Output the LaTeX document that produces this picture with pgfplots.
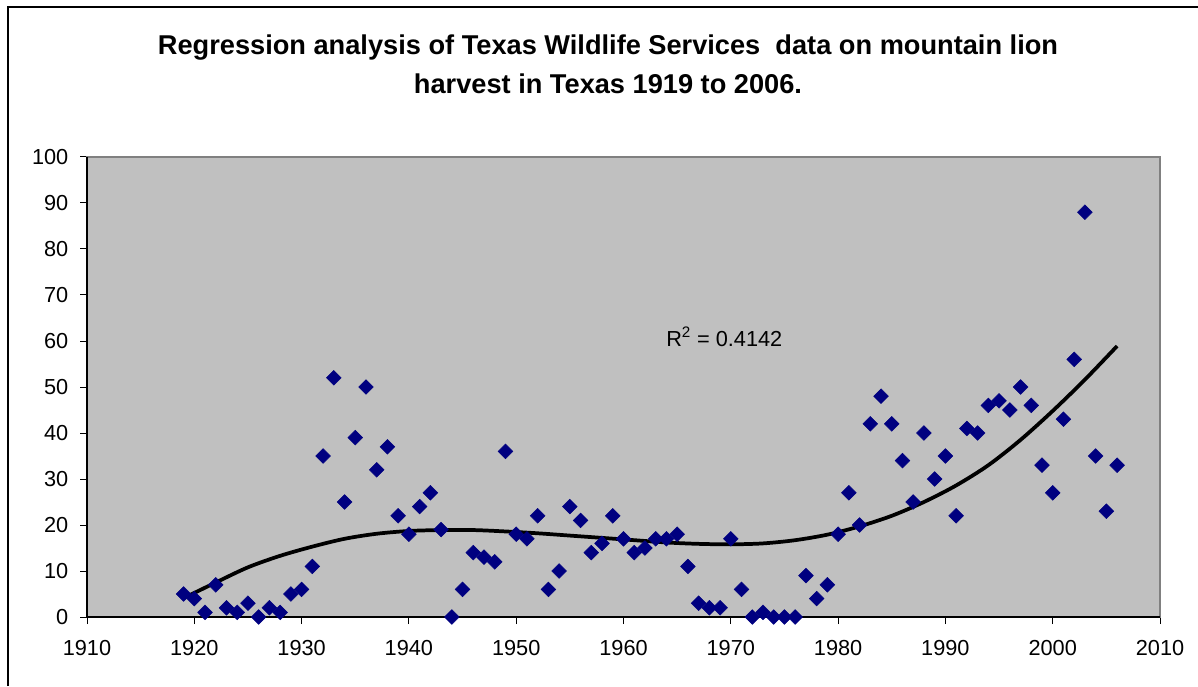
\documentclass[border=0pt]{standalone}
\usepackage{pgfplots}
\pgfplotsset{compat=1.18}
\usepackage{pgfplotstable}
\usepackage{fontspec}
\setmainfont{Liberation Sans}
\definecolor{navy}{HTML}{000080}
\definecolor{plotgray}{HTML}{C0C0C0}
\definecolor{bordergray}{HTML}{808080}

\pgfplotstableread{
year value
1919 5
1920 4
1921 1
1922 7
1923 2
1924 1
1925 3
1926 0
1927 2
1928 1
1929 5
1930 6
1931 11
1932 35
1933 52
1934 25
1935 39
1936 50
1937 32
1938 37
1939 22
1940 18
1941 24
1942 27
1943 19
1944 0
1945 6
1946 14
1947 13
1948 12
1949 36
1950 18
1951 17
1952 22
1953 6
1954 10
1955 24
1956 21
1957 14
1958 16
1959 22
1960 17
1961 14
1962 15
1963 17
1964 17
1965 18
1966 11
1967 3
1968 2
1969 2
1970 17
1971 6
1972 0
1973 1
1974 0
1975 0
1976 0
1977 9
1978 4
1979 7
1980 18
1981 27
1982 20
1983 42
1984 48
1985 42
1986 34
1987 25
1988 40
1989 30
1990 35
1991 22
1992 41
1993 40
1994 46
1995 47
1996 45
1997 50
1998 46
1999 33
2000 27
2001 43
2002 56
2003 88
2004 35
2005 23
2006 33
}\harvest

\pgfplotstableread{
year trend
1919 4.1
1922 7.5
1925 10.8
1928 13.3
1931 15.3
1934 17.0
1937 18.1
1940 18.7
1943 18.9
1946 18.9
1949 18.6
1952 18.2
1955 17.7
1958 17.2
1961 16.7
1964 16.2
1967 15.9
1970 15.8
1973 16.0
1976 16.7
1979 17.9
1982 19.7
1985 22.0
1988 25.0
1991 28.6
1994 33.0
1997 38.5
2000 44.8
2003 51.6
2006 58.9
}\trend

\begin{document}
\begin{tikzpicture}
\useasboundingbox (0pt,0pt) rectangle (898.5pt,514.5pt);
\draw[line width=1pt,black] (6pt,0pt) -- (6pt,509.25pt) -- (898.5pt,509.25pt);
\node[anchor=base,inner sep=0pt,font=\bfseries\fontsize{20.4}{24}\selectfont] at (456pt,473.25pt) {Regression analysis of Texas Wildlife Services\ \ data on mountain lion};
\node[anchor=base,inner sep=0pt,font=\bfseries\fontsize{20.4}{24}\selectfont] at (456pt,444pt) {harvest in Texas 1919 to 2006.};
\begin{axis}[
  at={(65.25pt,51.75pt)}, anchor=south west,
  scale only axis, width=804.75pt, height=345pt,
  xmin=1910, xmax=2010, ymin=0, ymax=100,
  xtick={1910,1920,...,2010}, ytick={0,10,...,100},
  tick pos=left, tick align=outside,
  major tick length=5.25pt,
  tick style={black, line width=0.75pt},
  axis background/.style={fill=plotgray},
  axis line style={draw=bordergray, line width=1.5pt},
  ticklabel style={font=\fontsize{16.3}{19}\selectfont},
  xticklabel style={yshift=-9pt},
  yticklabel style={xshift=-5.25pt},
  /pgf/number format/assume math mode=true,
  /pgf/number format/1000 sep={},
  clip=false,
]
\addplot[black, line width=2.8pt, smooth, no marks] table[x=year,y=trend] {\trend};
\addplot[only marks, mark=square*, mark size=3.9pt, color=navy,
  mark options={rotate=45, fill=navy, draw=navy}] table[x=year,y=value] {\harvest};
\draw[black, line width=0.9pt] (axis cs:1910,100) -- (axis cs:1910,0) -- (axis cs:2010,0);
\node[anchor=base west, inner sep=0pt, font=\fontsize{16.3}{19}\selectfont] at (axis cs:1963.96,58.9) {R$^{\mathrm{2}}$ = 0.4142};
\end{axis}
\end{tikzpicture}
\end{document}
